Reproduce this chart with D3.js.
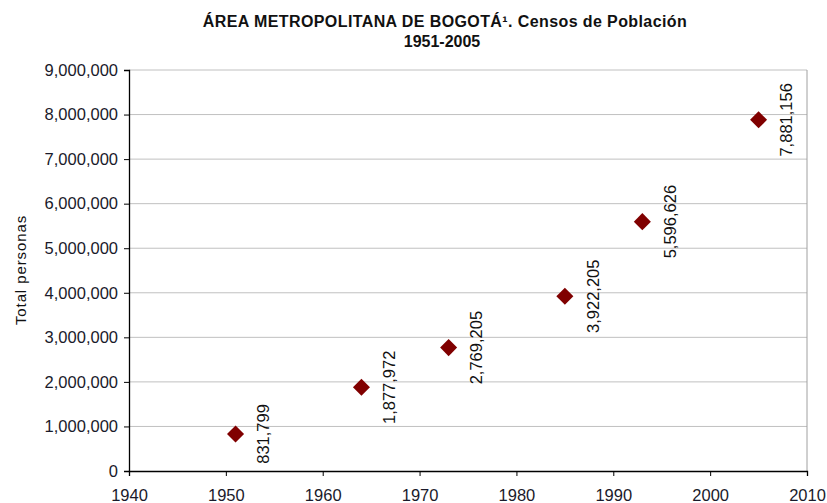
<!DOCTYPE html>
<html><head><meta charset="utf-8">
<script src="https://cdn.jsdelivr.net/npm/d3@7"></script>
<style>body{margin:0;background:#fff;} text{font-family:"Liberation Sans",Arial,sans-serif;}</style>
</head><body>
<svg id="c" width="827" height="503"></svg>
<script>
const years = [1951, 1964, 1973, 1985, 1993, 2005];
const population = [831799, 1877972, 2769205, 3922205, 5596626, 7881156];
const xTicks = [1940, 1950, 1960, 1970, 1980, 1990, 2000, 2010];
const yTicks = [0, 1000000, 2000000, 3000000, 4000000, 5000000, 6000000, 7000000, 8000000, 9000000];

const svg = d3.select("#c");
const L = 129, R = 807, T = 70, B = 471;
const x = d3.scaleLinear().domain([1940, 2010]).range([L, R]);
const y = d3.scaleLinear().domain([0, 9000000]).range([B, T]);
const fmt = d3.format(",");

// gridlines
svg.append("g").selectAll("line").data(yTicks.filter(d => d > 0)).join("line")
  .attr("x1", L).attr("x2", R).attr("y1", d => y(d)).attr("y2", d => y(d))
  .attr("stroke", "#c0c0c0").attr("stroke-width", 1);
// right border
svg.append("line").attr("x1", R).attr("x2", R).attr("y1", T).attr("y2", B)
  .attr("stroke", "#a0a0a0");

// axes
const ya = svg.append("g").attr("transform", `translate(${L},0)`)
  .call(d3.axisLeft(y).tickValues(yTicks).tickFormat(fmt).tickSize(5).tickPadding(6));
const xa = svg.append("g").attr("transform", `translate(0,${B})`)
  .call(d3.axisBottom(x).tickValues(xTicks).tickFormat(d3.format("d")).tickSize(5).tickPadding(13));
[ya, xa].forEach(g => {
  g.select(".domain").attr("stroke", "#000").attr("stroke-width", 1.3);
  g.selectAll(".tick line").attr("stroke", "#000");
  g.selectAll(".tick text").attr("font-size", 16.5).attr("fill", "#1a1a2a")
    .style("font-family", '"Liberation Sans",Arial,sans-serif');
});

// markers
svg.append("g").selectAll("path").data(years).join("path")
  .attr("d", d3.symbol().type(d3.symbolSquare).size(145))
  .attr("transform", (d, i) => `translate(${x(d)},${y(population[i])}) rotate(45)`)
  .attr("fill", "#800000");

// labels
svg.append("g").selectAll("text").data(years).join("text")
  .attr("transform", (d, i) => `translate(${x(d) + 28},${y(population[i])}) rotate(-90)`)
  .attr("text-anchor", "middle").attr("dy", "0.35em")
  .attr("font-size", 16.5).attr("fill", "#111")
  .text((d, i) => fmt(population[i]));

// titles
svg.append("text").attr("x", 445).attr("y", 27).attr("text-anchor", "middle")
  .attr("font-size", 16).attr("font-weight", "bold").attr("fill", "#111")
  .attr("letter-spacing", 0.4)
  .text("ÁREA METROPOLITANA DE BOGOTÁ¹. Censos de Población");
svg.append("text").attr("x", 442).attr("y", 47).attr("text-anchor", "middle")
  .attr("font-size", 16).attr("font-weight", "bold").attr("fill", "#111")
  .text("1951-2005");
svg.append("text").attr("transform", "translate(26,270) rotate(-90)")
  .attr("text-anchor", "middle").attr("font-size", 15).attr("fill", "#111")
  .attr("letter-spacing", 0.9)
  .text("Total personas");
</script>
</body></html>
